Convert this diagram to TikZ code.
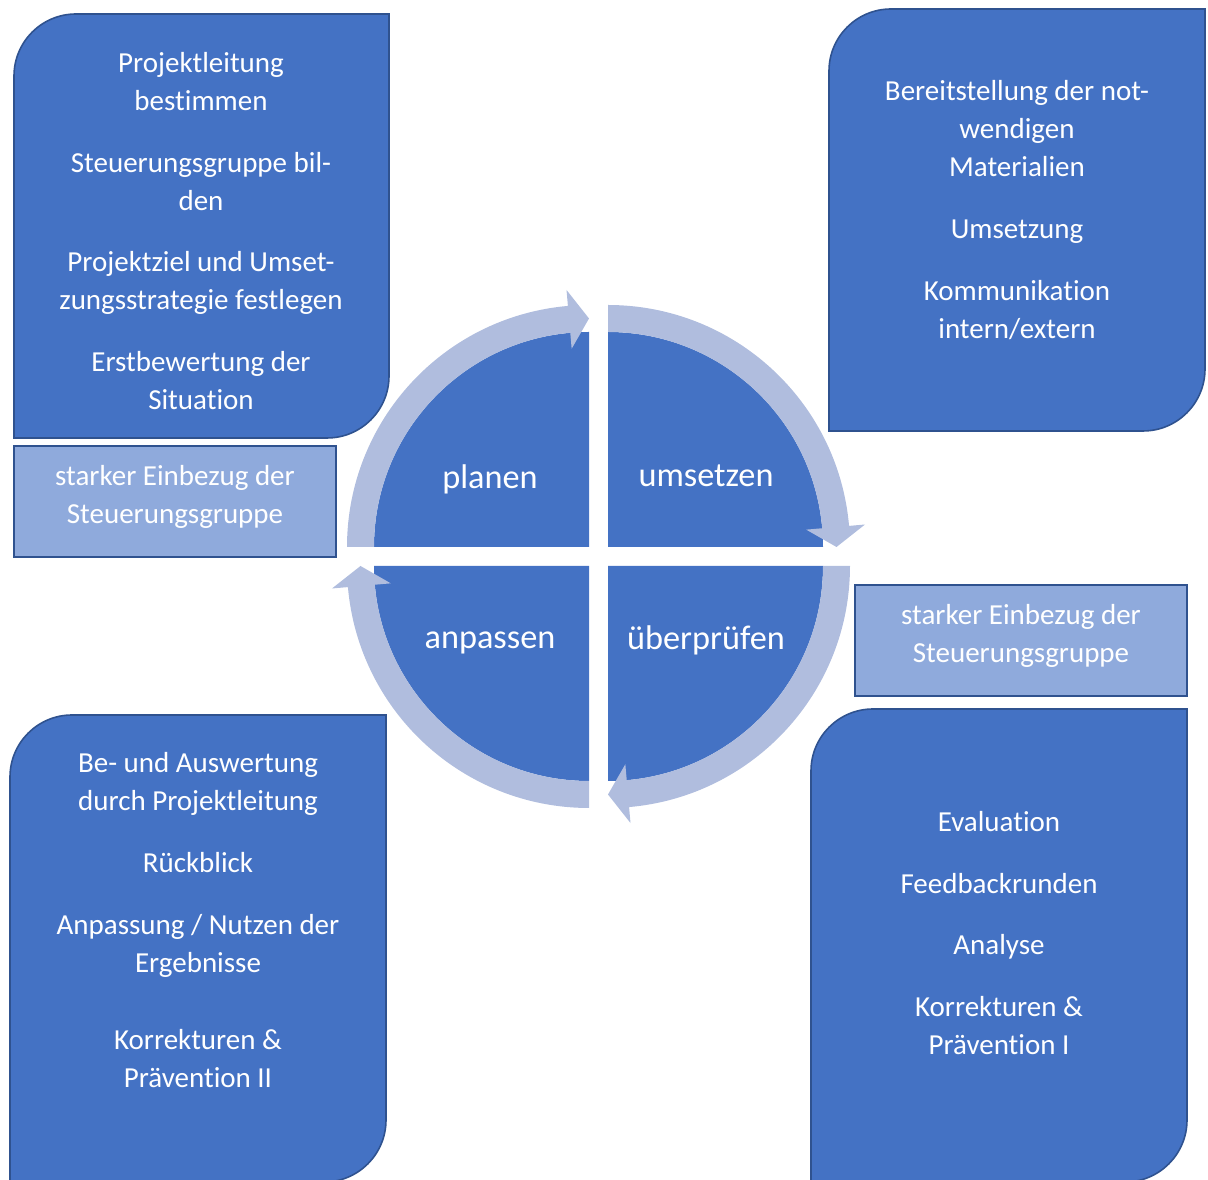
\documentclass[tikz,border=0pt]{standalone}
\usepackage{fontspec}
\setmainfont{Carlito}[Ligatures=NoCommon]
\usepackage{tikz}
\usetikzlibrary{positioning}

\definecolor{cycleblue}{HTML}{4472C4}
\definecolor{edgeblue}{HTML}{2F528F}
\definecolor{paleblue}{HTML}{8FAADC}
\definecolor{ringblue}{HTML}{B0BDDE}

% card with rounded top-left and bottom-right corner: left, bottom, right, top
\newcommand{\card}[4]{%
  \path[card] (#1,#2) -- (#1,#4-62) arc[start angle=180, end angle=90, radius=62]
    -- (#3,#4) -- (#3,#2+62) arc[start angle=0, end angle=-90, radius=62] -- cycle;}

\begin{document}
\begin{tikzpicture}[x=0.02cm,y=0.02cm,
  card/.style={fill=cycleblue,draw=edgeblue,line width=0.9pt},
  cardtext/.style={text=white,align=center,font=\fontsize{16.5}{21.6}\selectfont},
  note/.style={cardtext,fill=paleblue,draw=edgeblue,line width=1.3pt,inner sep=0pt,text depth=8pt},
  phase/.style={text=white,font=\fontsize{19.5}{23}\selectfont}]
\useasboundingbox (0,0) rectangle (1208,1180);

% the four cards
\card{14}{742}{389}{1166}
\card{829}{749}{1205}{1171}
\card{10}{-2}{386}{465}
\card{811}{-2}{1187}{471}

\node[cardtext] (plan) at (201,949) {Projektleitung\\bestimmen\\[13.6pt]
  Steuerungsgruppe bil-\\den\\[13.6pt]
  Projektziel und Umset-\\zungsstrategie festlegen\\[13.6pt]
  Erstbewertung der\\Situation};
\node[cardtext] (act) at (1017,970) {Bereitstellung der not-\\wendigen\\Materialien\\[13.6pt]
  Umsetzung\\[13.6pt]
  Kommunikation\\intern/extern};
\node[cardtext] (adjust) at (198,260) {Be- und Auswertung\\durch Projektleitung\\[13.6pt]
  Rückblick\\[13.6pt]
  Anpassung / Nutzen der\\Ergebnisse\\[22pt]
  Korrekturen \&\\Prävention II};
\node[cardtext] (check) at (999,247) {Evaluation\\[13.6pt]
  Feedbackrunden\\[13.6pt]
  Analyse\\[13.6pt]
  Korrekturen \&\\Prävention I};

% steering group notes
\node[note,minimum width=322*0.02cm,minimum height=111*0.02cm] (noteL) at (175,678.5)
  {starker Einbezug der\\Steuerungsgruppe};
\node[note,minimum width=332*0.02cm,minimum height=111*0.02cm] (noteR) at (1021,539.5)
  {starker Einbezug der\\Steuerungsgruppe};

% quarter discs, then the ring arrows on top
\foreach \cx/\cy/\a in {589/633/180, 608/633/90, 608/614/0, 589/614/-90}{
  \begin{scope}[shift={(\cx,\cy)}]
    \fill[cycleblue] (0,0) -- (\a:215) arc[start angle=\a, end angle=\a-90, radius=215] -- cycle;
  \end{scope}}
\foreach \cx/\cy/\a in {589/633/180, 608/633/90, 608/614/0, 589/614/-90}{
  \begin{scope}[shift={(\cx,\cy)}]
    \fill[ringblue] (\a:242) arc[start angle=\a, end angle=\a-85, radius=242]
      -- (\a-85:258) -- (\a-90:228.5) -- (\a-85:199) -- (\a-85:215)
      arc[start angle=\a-85, end angle=\a, radius=215] -- cycle;
  \end{scope}}

\node[phase] (planen) at (490,701) {planen};
\node[phase] (umsetzen) at (706,704) {umsetzen};
\node[phase] (anpassen) at (490,537) {anpassen};
\node[phase] (pruefen) at (706,540) {überprüfen};
\end{tikzpicture}
\end{document}
